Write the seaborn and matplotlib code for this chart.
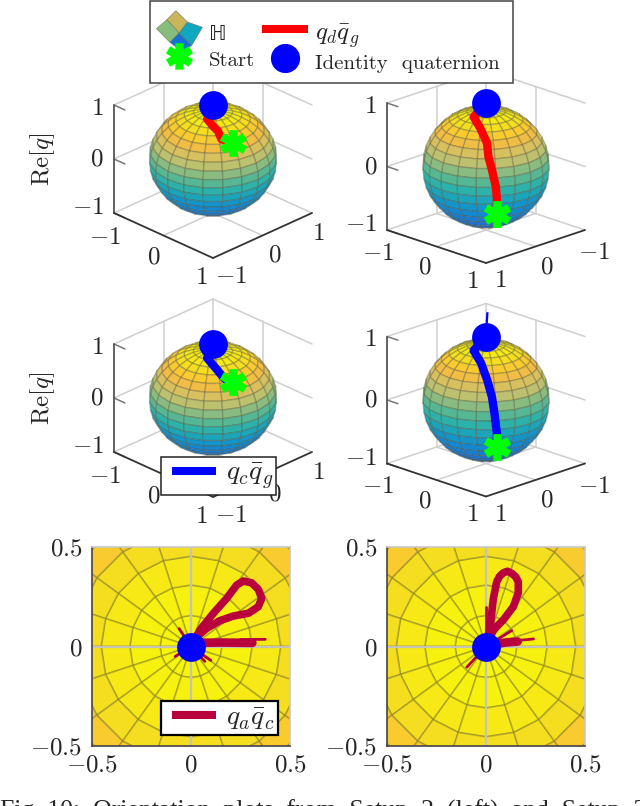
import numpy as np
import seaborn as sns
import matplotlib
matplotlib.use("Agg")
import matplotlib.pyplot as plt
from matplotlib.collections import PolyCollection
from matplotlib.colors import LinearSegmentedColormap
from matplotlib.lines import Line2D
from matplotlib.legend_handler import HandlerBase, HandlerLine2D
from matplotlib.patches import Polygon
from matplotlib.path import Path

sns.set_style("white")
plt.rcParams["font.family"] = ["cmr10", "DejaVu Sans"]
plt.rcParams["mathtext.fontset"] = "cm"
plt.rcParams["axes.unicode_minus"] = False

# %% data
# trajectories on the sphere, from identity to start
qd_left_x = [0.0, 0.03, 0.13, 0.29, 0.39, 0.505, 0.64]
qd_left_y = [0.0, -0.01, -0.25, -0.29, -0.29, -0.335, -0.24]
qd_left_z = [1.0, 0.98, 0.9, 0.85, 0.8, 0.72, 0.66]

qd_right_x = [0.0, 0.07, 0.29, 0.51, 0.6, 0.695, 0.75, 0.74, 0.68]
qd_right_y = [0.0, 0.32, 0.41, 0.49, 0.55, 0.575, 0.55, 0.52, 0.46]
qd_right_z = [1.0, 0.88, 0.79, 0.63, 0.45, 0.275, 0.015, -0.2, -0.45]

qc_left_x = [0.0, 0.02, 0.13, 0.34, 0.53, 0.68]
qc_left_y = [0.0, -0.01, -0.25, -0.29, -0.31, -0.28]
qc_left_z = [1.12, 0.97, 0.9, 0.82, 0.72, 0.66]

qc_right_x = [0.0, 0.07, 0.33, 0.56, 0.68, 0.73, 0.74, 0.68]
qc_right_y = [0.0, 0.32, 0.43, 0.536, 0.56, 0.56, 0.52, 0.46]
qc_right_z = [1.0, 0.88, 0.78, 0.6, 0.37, 0.13, -0.2, -0.45]

spike_right_x = [0.0, 0.03]
spike_right_y = [0.0, 0.0]
spike_right_z = [1.05, 1.39]

# q_a q_c loops in the bottom row
qa_left_x = [0.0, 0.045, 0.113, 0.18, 0.231, 0.264, 0.306, 0.34, 0.357, 0.34, 0.29, 0.214, 0.146, 0.079, 0.029, 0.0]
qa_left_y = [0.0, 0.083, 0.167, 0.242, 0.309, 0.329, 0.32, 0.287, 0.242, 0.2, 0.167, 0.153, 0.13, 0.091, 0.049, 0.0]
band_left_x = [0.0, 0.15, 0.31]
band_left_y = [0.018, 0.02, 0.018]
spikes_left = [[(0.25, 0.035), (0.375, 0.036)],
               [(0.0, 0.0), (-0.06, 0.09)], [(0.0, 0.0), (0.1, -0.07)],
               [(0.0, 0.0), (0.07, -0.075)], [(0.0, 0.0), (-0.08, -0.05)]]

qa_right_x = [0.0, 0.01, 0.024, 0.037, 0.054, 0.068, 0.087, 0.108, 0.13, 0.15, 0.163, 0.163, 0.138, 0.087, 0.037, 0.0]
qa_right_y = [0.0, 0.05, 0.125, 0.24, 0.325, 0.352, 0.37, 0.378, 0.368, 0.35, 0.325, 0.27, 0.2, 0.133, 0.083, 0.0]
band_right_x = [0.03, 0.1, 0.16]
band_right_y = [0.01, 0.02, 0.025]
spikes_right = [[(0.16, 0.03), (0.24, 0.038)], [(0.0, 0.0), (0.13, 0.08)],
                [(0.0, 0.0), (-0.097, -0.104)], [(-0.002, 0.0), (-0.002, 0.2)]]

start_left = (0.64, -0.24, 0.66)
start_right = (0.68, 0.46, -0.45)
identity = (0.0, 0.0, 1.0)

cube_ticks = [-1, 0, 1]
flat_ticks = [-0.5, 0, 0.5]
flat_ticklabels = ["$-0.5$", "$0$", "$0.5$"]
caption = "Fig. 10:  Orientation  plots  from  Setup  2  (left)  and  Setup  3"

# %% colours and helpers
RED, BLUE, GREEN, CRIMSON = "#ff0000", "#0000ff", "#00ff00", "#b8003c"
GRID = "#cfcfcf"
# height on the sphere (-1..1 put on 0..1) against colour
surface_cmap = LinearSegmentedColormap.from_list("surface", [
    (0.0, "#1060d8"), (0.1, "#1a70d8"), (0.285, "#1090d0"), (0.435, "#20b0b0"), (0.56, "#60b890"),
    (0.678, "#b8c070"), (0.758, "#d8c060"), (0.85, "#fdbc3a"), (0.925, "#f5de20"), (1.0, "#f7f50c")])
W, H = 640, 806
fig = plt.figure(figsize=(W / 100, H / 100), dpi=100)

star_path = Path([(0, -1), (0, 1), (-0.87, -0.5), (0.87, 0.5), (-0.87, 0.5), (0.87, -0.5)],
                 [Path.MOVETO, Path.LINETO] * 3)


def px_axes(x0, y0, x1, y1):
    return fig.add_axes([x0 / W, 1 - y1 / H, (x1 - x0) / W, (y1 - y0) / H])


def sphere_quads(r=1.0, n=20):
    th = np.linspace(0, np.pi, n + 1)
    ph = np.linspace(0, 2 * np.pi, n + 1)
    quads = []
    for i in range(n):
        for j in range(n):
            pts = []
            for a, b in [(i, j), (i + 1, j), (i + 1, j + 1), (i, j + 1)]:
                pts.append((np.sin(th[a]) * np.cos(ph[b]), np.sin(th[a]) * np.sin(ph[b]), np.cos(th[a])))
            quads.append(np.array(pts) * r)
    return quads


def add_marks(ax, x, y, start=None):
    if start is not None:
        sns.scatterplot(x=[start[0]], y=[start[1]], marker=star_path, s=370, color=GREEN,
                        edgecolor=GREEN, linewidth=6, zorder=6, legend=False, ax=ax)
    sns.scatterplot(x=[x], y=[y], marker="o", s=430, color=BLUE, linewidth=0, zorder=7, legend=False, ax=ax)


class Cube:
    # 3d panel drawn on a plain 2d axes, p is the projection in pixels per unit
    def __init__(self, cx, cy, ux, uy, uz, flip, r):
        self.ax = px_axes(cx - 130, cy - 125, cx + 130, cy + 125)
        self.ax.set_xlim(-130, 130)
        self.ax.set_ylim(-125, 125)
        self.ax.axis("off")
        self.ax.patch.set_alpha(0)
        self.flip = flip
        self.p = np.array([[ux, flip * ux, 0], [-uy, flip * uy, uz]])
        self.r = r

    def proj(self, x, y, z):
        return self.p @ np.array([x, y, z], dtype=float)

    def seg(self, a, b, color=GRID, lw=1.1, z=1):
        s = self.proj(*zip(a, b))
        self.ax.plot(s[0], s[1], color=color, lw=lw, zorder=z, solid_capstyle="round")

    def frame(self):
        yb = self.flip
        lc, bc, rc, fc = (-1, -yb), (-1, yb), (1, yb), (1, -yb)
        for z in cube_ticks:
            self.seg((*lc, z), (*bc, z))
            self.seg((*bc, z), (*rc, z))
            self.seg((*lc, z), (lc[0] + 0.22, lc[1], z), color="#777777", z=2)
        self.seg((*bc, -1), (*bc, 1))
        self.seg((-1, 0, -1), (-1, 0, 1))
        self.seg((0, yb, -1), (0, yb, 1))
        self.seg((0, -1, -1), (0, 1, -1))
        self.seg((-1, 0, -1), (1, 0, -1))
        self.seg((*lc, -1), (*lc, 1), color="#555555", lw=1.3, z=2)
        self.seg((*lc, -1), (*fc, -1), color="#333333", lw=1.3, z=2)
        self.seg((*fc, -1), (*rc, -1), color="#333333", lw=1.3, z=2)

    def sphere(self):
        d = np.cross(self.p[0], self.p[1])
        d = d if d[2] > 0 else -d
        polys, vals = [], []
        for q in sphere_quads(self.r):
            c = q.mean(axis=0)
            if c @ d > 0:
                polys.append((self.p @ q.T).T)
                vals.append(c[2] / self.r)
        pc = PolyCollection(polys, array=np.array(vals), cmap=surface_cmap, clim=(-1, 1),
                            edgecolors=(0.33, 0.33, 0.22, 0.33), linewidths=1.0, zorder=3)
        self.ax.add_collection(pc)

    def path(self, x, y, z, color, lw=6.0):
        s = self.proj(x, y, z)
        sns.lineplot(x=s[0], y=s[1], sort=False, estimator=None, errorbar=None, color=color, linewidth=lw,
                     solid_joinstyle="round", solid_capstyle="butt", zorder=5, legend=False, ax=self.ax)

    def labels(self, ylabel=False):
        right_col = self.flip < 0
        for t in cube_ticks:
            tx = "$-1$" if t < 0 else f"${t}$"
            s = self.proj(t, -self.flip, -1)
            ox, oy = (-11.5 - 2.5 * t, -21 + 2.5 * t) if right_col else (-10 - 1.5 * t, -22 + 2.5 * t)
            self.ax.text(s[0] + ox, s[1] + oy, tx, fontsize=18, ha="center", va="center", zorder=2)
            s = self.proj(1, t, -1)
            ox, oy = (11.5 + 2.5 * t, -20.5 + 2.5 * t) if right_col else (12 - 6 * t, -20 - t)
            self.ax.text(s[0] + ox, s[1] + oy, tx, fontsize=18, ha="center", va="center", zorder=2)
            s = self.proj(-1, -self.flip, t)
            self.ax.text(s[0] - 10, s[1] + {-1: 5, 0: -0.5, 1: -3.5}[t], tx, fontsize=18, ha="right", va="center", zorder=2)
        if ylabel:
            self.ax.text(-170, 0, r"$\mathrm{Re}[q]$", fontsize=18, rotation=90, ha="center", va="center")


LEFT = dict(ux=49.5, uy=22.5, uz=54, flip=1, r=0.915)
RIGHT = dict(ux=49.5, uy=16.5, uz=63.5, flip=-1, r=0.91)

panels = [
    (213, 159, LEFT, qd_left_x, qd_left_y, qd_left_z, RED, start_left, True),
    (486, 166.5, RIGHT, qd_right_x, qd_right_y, qd_right_z, RED, start_right, False),
    (213, 398, LEFT, qc_left_x, qc_left_y, qc_left_z, BLUE, start_left, True),
    (486, 400, RIGHT, qc_right_x, qc_right_y, qc_right_z, BLUE, start_right, False),
]
cubes = []
for cx, cy, view, px_, py_, pz_, col, st, ylab in panels:
    c = Cube(cx, cy, **view)
    c.frame()
    c.sphere()
    c.path(px_, py_, pz_, col)
    c.labels(ylab)
    add_marks(c.ax, *c.proj(*identity), c.proj(*st))
    c.ax.set_xlim(-130, 130)
    c.ax.set_ylim(-125, 125)
    cubes.append(c)

cubes[3].path(spike_right_x, spike_right_y, spike_right_z, BLUE, lw=1.6)


# %% bottom row, top view of the same sphere
def flat_panel(x0, qx, qy, bx, by, spikes):
    ax = px_axes(x0, 547, x0 + 198, 746)
    polys, vals = [], []
    for q in sphere_quads():
        c = q.mean(axis=0)
        if c[2] > 0:
            polys.append(q[:, :2])
            vals.append(c[2])
    ax.add_collection(PolyCollection(polys, array=np.array(vals), cmap=surface_cmap, clim=(-1, 1),
                                     edgecolors=(0.45, 0.43, 0.12, 0.42), linewidths=1.2, zorder=1))
    ax.axhline(0, color="#c4c4bc", lw=1.6, zorder=2)
    ax.axvline(0, color="#c4c4bc", lw=1.6, zorder=2)
    sns.lineplot(x=qx, y=qy, sort=False, estimator=None, errorbar=None, color=CRIMSON, linewidth=5.5,
                 solid_joinstyle="round", zorder=4, legend=False, ax=ax)
    sns.lineplot(x=bx, y=by, sort=False, estimator=None, errorbar=None, color=CRIMSON, linewidth=6.2,
                 zorder=4, legend=False, ax=ax)
    for sp in spikes:
        sns.lineplot(x=[p[0] for p in sp], y=[p[1] for p in sp], sort=False, estimator=None, errorbar=None,
                     color=CRIMSON, linewidth=2.0, zorder=4, legend=False, ax=ax)
    add_marks(ax, 0, 0)
    ax.set_xlim(-0.5, 0.5)
    ax.set_ylim(-0.5, 0.5)
    ax.set_xticks(flat_ticks, flat_ticklabels, fontsize=18)
    ax.set_yticks(flat_ticks, flat_ticklabels, fontsize=18)
    ax.tick_params(length=0, pad=6)
    ax.tick_params(axis="y", pad=7)
    ax.set_xlabel("")
    ax.set_ylabel("")
    for name, col in [("left", "#444444"), ("bottom", "#444444"), ("top", "#c8c8c8"), ("right", "#c8c8c8")]:
        ax.spines[name].set_color(col)
        ax.spines[name].set_linewidth(1.2)
        ax.spines[name].set_visible(True)
    return ax


flat_panel(92, qa_left_x, qa_left_y, band_left_x, band_left_y, spikes_left)
flat_panel(387, qa_right_x, qa_right_y, band_right_x, band_right_y, spikes_right)


# %% legends
class IconHandler(HandlerBase):
    def create_artists(self, legend, orig, xd, yd, width, height, fontsize, trans):
        cx, cy = width / 2 - xd, height / 2 - yd
        quads = [([(-3.3, 22.3), (8.3, 11), (0, 0), (-12.3, 13.3)], "#c9b55c"),
                 ([(-12.3, 13.3), (0, 0), (-9.3, -9.3), (-22.7, 4.3)], "#86bd7c"),
                 ([(8.3, 11), (23.3, 5.7), (12.6, -12.3), (0, 0)], "#10a8c0"),
                 ([(0, 0), (12.6, -12.3), (3.3, -19), (-9.3, -9.3)], "#1272d8")]
        return [Polygon([(cx + 0.72 * a, cy + 0.72 * b) for a, b in pts], closed=True, facecolor=c,
                        edgecolor="#777755", lw=0.4, transform=trans) for pts, c in quads]


icon = object()
line_kw = dict(lw=5.8, solid_capstyle="butt")
handles = [icon, Line2D([], [], color=RED, **line_kw),
           Line2D([], [], ls="none", marker=star_path, ms=19, mew=6, mfc=GREEN, mec=GREEN),
           Line2D([], [], ls="none", marker="o", ms=21, mew=0, mfc=BLUE)]
labels = ["\u210d", r"$q_d\bar{q}_g$", "Start", "Identity  quaternion "]
# matplotlib fills columns first, so order is column by column
# the blank title only pushes the rows down inside the frame
leg = fig.legend([handles[0], handles[2], handles[1], handles[3]], [labels[0], labels[2], labels[1], labels[3]],
                 handler_map={object: IconHandler()}, ncols=2, loc="upper left", title=" ", title_fontsize=10.5,
                 bbox_to_anchor=(150 / W, 1 - 1 / H), borderaxespad=0, fontsize=15, fancybox=False, framealpha=1,
                 edgecolor="#444444", handlelength=2.2, handleheight=1.8, handletextpad=0.35, columnspacing=0.3,
                 labelspacing=-0.13, borderpad=0.3)
leg.get_frame().set_linewidth(1.1)
leg.get_texts()[2].set_fontsize(18)

legend_kw = dict(loc="upper left", borderaxespad=0, fontsize=20, fancybox=False, framealpha=1,
                 handlelength=1.87, handletextpad=0.35, borderpad=0.12,
                 handler_map={Line2D: HandlerLine2D(xpad=0.29)})
leg2 = fig.legend([Line2D([], [], color=BLUE, **line_kw)], [r"$q_c\bar{q}_g\;\,$"],
                  bbox_to_anchor=(160.5 / W, 1 - 457 / H), edgecolor="#222222", **legend_kw)
leg2.get_frame().set_linewidth(1.1)
leg3 = fig.legend([Line2D([], [], color=CRIMSON, **line_kw)], [r"$q_a\bar{q}_c\;\,$"],
                  bbox_to_anchor=(161 / W, 1 - 701 / H), edgecolor="#000000", **legend_kw)
leg3.get_frame().set_linewidth(1.6)

fig.text(0, -12 / H, caption, fontsize=18.5, family="Liberation Serif", ha="left", va="baseline")

fig.savefig("out.png", dpi=100)
